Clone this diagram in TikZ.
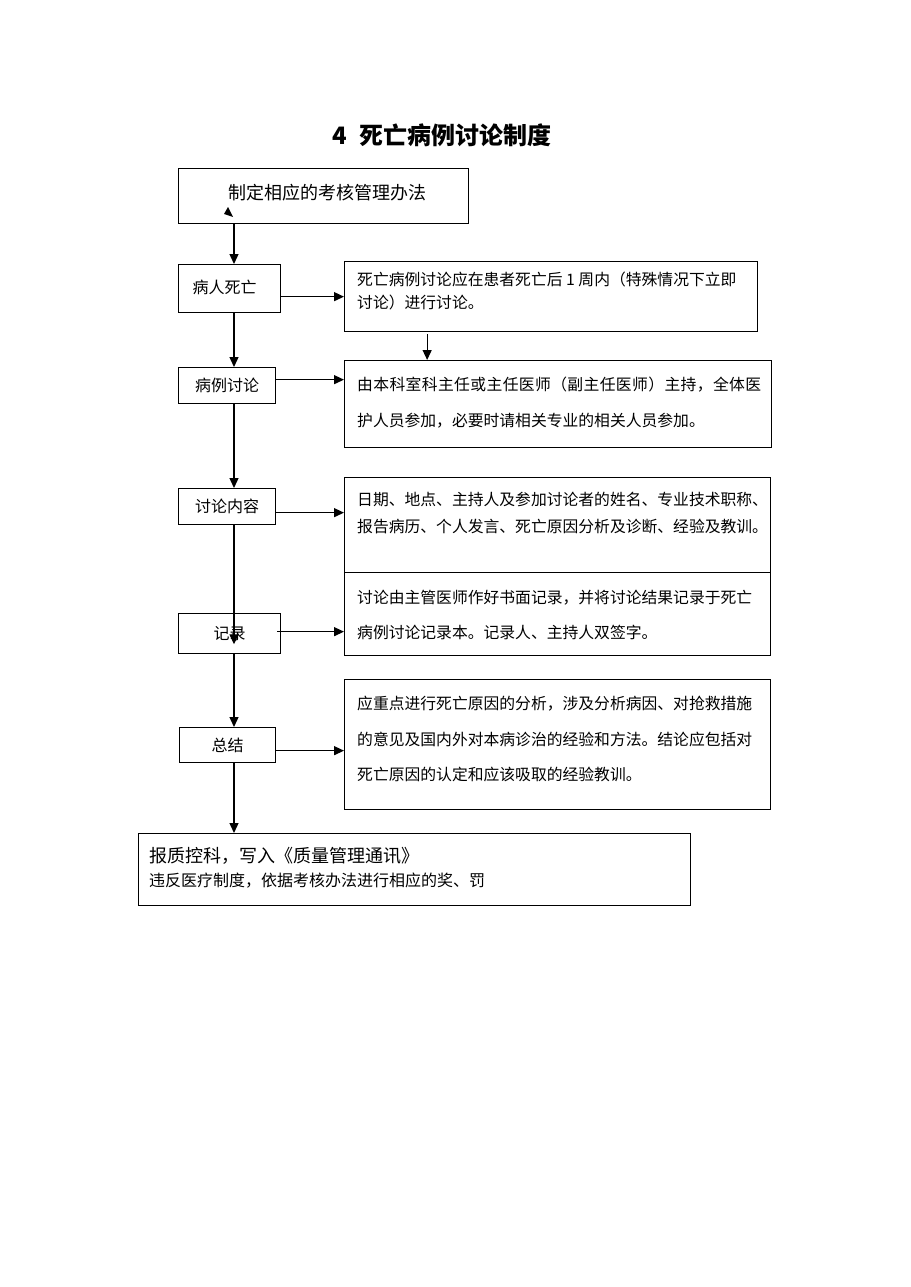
\documentclass[tikz,border=0pt]{standalone}
\usepackage{fontspec}
\newfontfamily\cjk{Noto Sans CJK SC}
\usetikzlibrary{positioning}
\usetikzlibrary{arrows.meta}

% spread one line of characters over a given width
\newcommand\spreadline[2]{\makebox[#1][s]{\spreadloop#2\relax}}
\def\spreadloop#1#2{#1\ifx#2\relax\else\hfill\expandafter\spreadloop\expandafter#2\fi}

\begin{document}
\begin{tikzpicture}[
    x=1pt, y=-1pt,
    mybox/.style={draw,line width=1.3pt,inner sep=0pt,anchor=north west},
    stage/.style={mybox,align=center,font=\cjk\fontsize{16pt}{16pt}\selectfont},
    detail/.style={mybox},
    dtext/.style={align=left,inner sep=0pt,anchor=north west,font=\cjk\fontsize{15.8pt}{#1}\selectfont},
    flow/.style={-{Triangle[length=10pt,width=9pt]},line width=1.3pt}
    ]

    \useasboundingbox[fill=white] (0,0) rectangle (910,1287);

    \node[font=\cjk\bfseries\fontsize{24pt}{24pt}\selectfont] (title) at (442,135) {4\hspace{12pt}死亡病例讨论制度};

    \node[mybox,minimum width=290pt,minimum height=55pt,font=\cjk\fontsize{18pt}{18pt}\selectfont] (plan) at (178,168) {\raisebox{9pt}{\hspace{8pt}制定相应的考核管理办法}};
    \fill (228,207) -- (233,217) -- (224,214) -- cycle;

    \node[stage,minimum width=102pt,minimum height=48pt] (death) at (178,264) {\raisebox{4pt}{病人死亡\hspace{10pt}}};
    \node[stage,minimum width=97pt,minimum height=36pt] (review) at (178,367) {病例讨论};
    \node[stage,minimum width=97pt,minimum height=36pt] (content) at (178,488) {讨论内容};
    \node[stage,minimum width=102pt,minimum height=40pt] (record) at (178,613) {记录};
    \node[stage,minimum width=96pt,minimum height=35pt] (summary) at (179,727) {总结};

    \node[detail,minimum width=413pt,minimum height=70pt] (detA) at (344,261) {};
    \node[detail,minimum width=427pt,minimum height=87pt] (detB) at (344,360) {};
    \node[detail,minimum width=426pt,minimum height=95pt] (detC) at (344,477) {};
    \node[detail,minimum width=426pt,minimum height=83pt] (detD) at (344,572) {};
    \node[detail,minimum width=426pt,minimum height=130pt] (detE) at (344,679) {};
    \node[mybox,minimum width=552pt,minimum height=72pt] (final) at (138,833) {};

    \node[dtext=23pt] (detAtxt) at ([shift={(13pt,-11pt)}]detA.north west)
        {死亡病例讨论应在患者死亡后 1 周内（特殊情况下立即\\讨论）进行讨论。};
    \node[dtext=36pt] (detBtxt) at ([shift={(13pt,-17pt)}]detB.north west)
        {\spreadline{404pt}{由本科室科主任或主任医师（副主任医师）主持，全体医}\\护人员参加，必要时请相关专业的相关人员参加。};
    \node[dtext=27pt] (detCtxt) at ([shift={(13pt,-15pt)}]detC.north west)
        {日期、地点、主持人及参加讨论者的姓名、专业技术职称、\\报告病历、个人发言、死亡原因分析及诊断、经验及教训。};
    \node[dtext=35pt] (detDtxt) at ([shift={(13pt,-18pt)}]detD.north west)
        {讨论由主管医师作好书面记录，并将讨论结果记录于死亡\\病例讨论记录本。记录人、主持人双签字。};
    \node[dtext=35.5pt] (detEtxt) at ([shift={(13pt,-17pt)}]detE.north west)
        {应重点进行死亡原因的分析，涉及分析病因、对抢救措施\\的意见及国内外对本病诊治的经验和方法。结论应包括对\\死亡原因的认定和应该吸取的经验教训。};
    \node[dtext=24pt,font=\cjk\fontsize{16pt}{24pt}\selectfont] (finaltxt) at ([shift={(11pt,-14pt)}]final.north west)
        {{\fontsize{18pt}{24pt}\selectfont 报质控科，写入《质量管理通讯》}\\违反医疗制度，依据考核办法进行相应的奖、罚};

    \coordinate (spine) at (234,0);
    \coordinate (recend) at ([yshift=10pt]record.south);

    % main line
    \draw[flow] (plan.south -| spine) -- (death.north -| spine);
    \draw[flow] (death.south -| spine) -- (review.north -| spine);
    \draw[flow] (review.south -| spine) -- (content.north -| spine);
    \draw[flow] (content.south -| spine) -- (recend -| spine);
    \draw[flow] (record.south -| spine) -- (summary.north -| spine);
    \draw[flow] (summary.south -| spine) -- (final.north -| spine);

    % to the details
    \draw[flow] ([yshift=-8pt]death.east) -- ([yshift=-8pt]death.east -| detA.west);
    \draw[flow] ([xshift=-124pt,yshift=-2pt]detA.south) -- ([xshift=-124pt]detA.south |- detB.north);
    \draw[flow] ([yshift=6pt]review.east) -- ([yshift=6pt]review.east -| detB.west);
    \draw[flow] ([yshift=-6pt]content.east) -- ([yshift=-6pt]content.east -| detC.west);
    \draw[flow] ([shift={(-4pt,2pt)}]record.east) -- ([yshift=2pt]record.east -| detD.west);
    \draw[flow] ([yshift=-5.5pt]summary.east) -- ([yshift=-5.5pt]summary.east -| detE.west);

\end{tikzpicture}
\end{document}
